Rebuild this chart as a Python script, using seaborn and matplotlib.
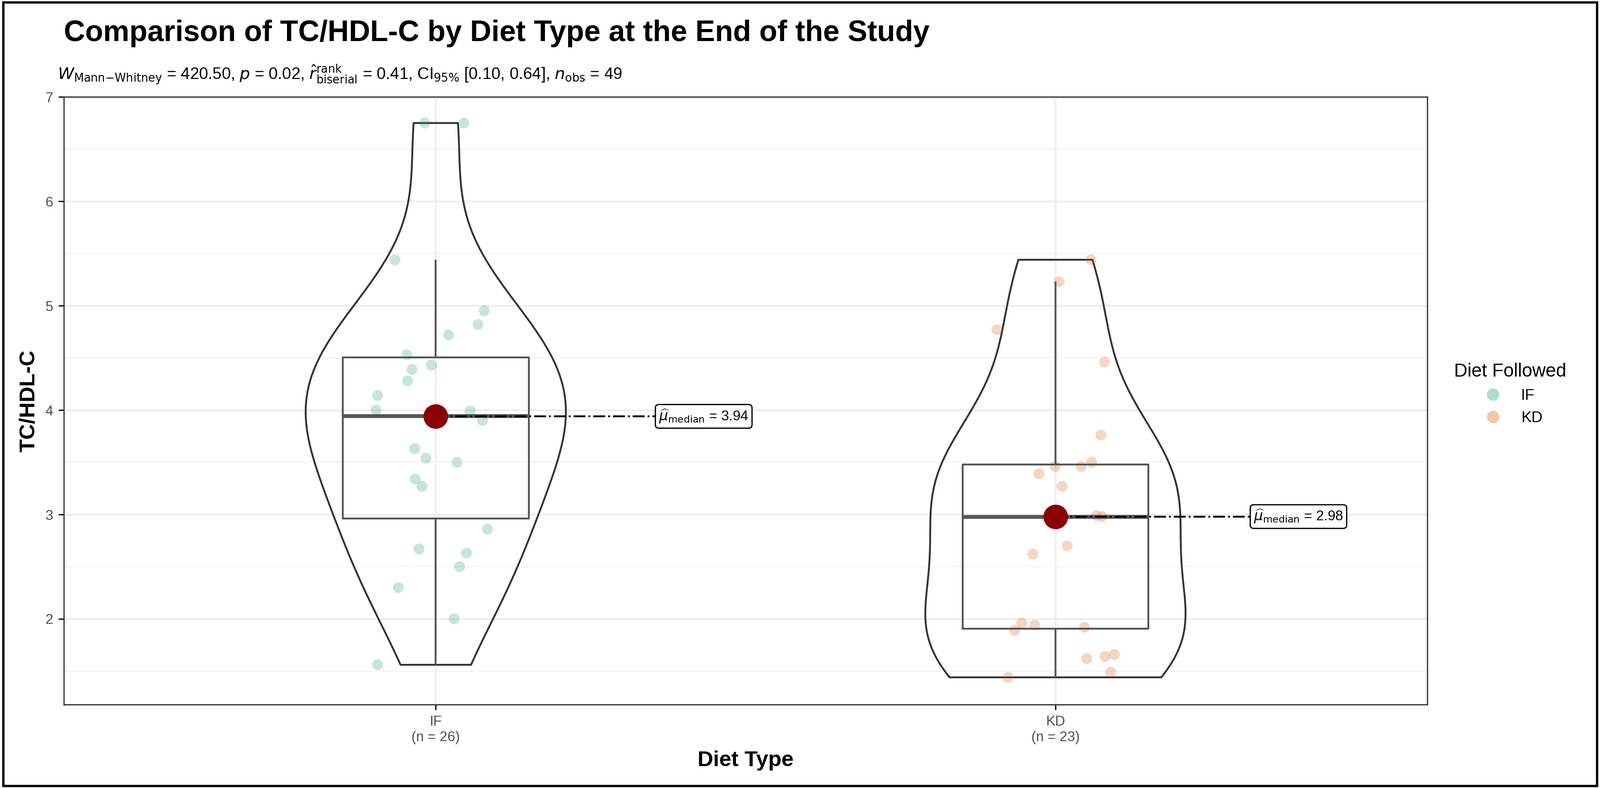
import numpy as np
import pandas as pd
import matplotlib
matplotlib.use("Agg")
import matplotlib.pyplot as plt
import seaborn as sns
from matplotlib.lines import Line2D

plt.rcParams["font.family"] = "Liberation Sans"

groups = ["IF", "KD"]
if_values = [6.75, 6.75, 5.44, 4.95, 4.72, 4.82, 4.53, 4.43, 4.39, 4.28, 4.14, 4.00, 3.99,
             3.90, 3.63, 3.54, 3.50, 3.34, 3.27, 2.86, 2.67, 2.63, 2.50, 2.30, 2.00, 1.56]
kd_values = [5.44, 5.23, 4.77, 4.46, 3.76, 3.50, 3.46, 3.46, 3.39, 3.27, 2.98, 2.99, 2.70,
             2.62, 1.96, 1.94, 1.89, 1.92, 1.66, 1.64, 1.62, 1.49, 1.44]
medians = [3.94, 2.98]
colors = {"IF": "#1B9E77", "KD": "#D95F02"}

df = pd.DataFrame({"Diet": ["IF"] * len(if_values) + ["KD"] * len(kd_values),
                   "val": if_values + kd_values})

fig = plt.figure(figsize=(14.34, 7.064), dpi=250)
ax = fig.add_axes([0.04, 0.106, 0.852, 0.771])
ax.set_xlim(-0.6, 1.6)
ax.set_ylim(1.18, 7.0)

sns.stripplot(data=df, x="Diet", y="val", hue="Diet", palette=colors, order=groups,
              jitter=0.1, size=7, alpha=0.25, linewidth=0, ax=ax, legend=False, zorder=2)
sns.violinplot(data=df, x="Diet", y="val", order=groups, cut=0, fill=False, inner=None,
               density_norm="width", width=0.42, color="#333333", linewidth=1.2, ax=ax)
sns.boxplot(data=df, x="Diet", y="val", order=groups, fill=False, width=0.3, whis=1.2,
            color="#555555", linewidth=1.2, showfliers=False, showcaps=False, ax=ax,
            medianprops=dict(color="#555555", lw=2.5))
ax.set_xlim(-0.6, 1.6)
ax.set_ylim(1.18, 7.0)
ax.set_yticks([2, 3, 4, 5, 6, 7])
ax.set_yticks(np.arange(1.5, 7.0, 1.0), minor=True)
ax.grid(True, which="major", color="#EBEBEB", lw=1.0)
ax.grid(True, which="minor", axis="y", color="#F2F2F2", lw=0.6)
ax.set_axisbelow(True)

label_x = [0.36, 1.32]
for i, m in enumerate(medians):
    ax.plot([i, label_x[i]], [m, m], ls="-.", color="black", lw=1.2, zorder=4)
    ax.scatter([i], [m], s=220, color="#8B0000", zorder=5)
    ax.text(label_x[i], m, r"$\widehat{\mu}_{\mathrm{median}}$ = %.2f" % m, fontsize=9,
            va="center", ha="left", zorder=6,
            bbox=dict(boxstyle="round,pad=0.25", fc="white", ec="black", lw=0.8))

ax.set_xticks([0, 1])
ax.set_xticklabels(["IF\n(n = 26)", "KD\n(n = 23)"], color="#4D4D4D", fontsize=9)
ax.tick_params(axis="y", labelcolor="#4D4D4D", labelsize=9)
ax.tick_params(which="minor", length=0)
for s in ax.spines.values():
    s.set_color("#333333"); s.set_linewidth(0.8)
ax.set_xlabel("Diet Type", fontsize=14, fontweight="bold")
ax.set_ylabel("TC/HDL-C", fontsize=14, fontweight="bold")

fig.text(0.04, 0.94, "Comparison of TC/HDL-C by Diet Type at the End of the Study",
         fontsize=19, fontweight="bold", ha="left", va="bottom")
fig.text(0.036, 0.905,
         r"$W_{\mathrm{Mann{-}Whitney}}$ = 420.50, $p$ = 0.02, $\hat{r}_{\mathrm{biserial}}^{\mathrm{rank}}$ = 0.41, CI$_{95\%}$ [0.10, 0.64], $n_{\mathrm{obs}}$ = 49",
         fontsize=10.5, ha="left", va="center")

handles = [Line2D([], [], marker="o", ls="", color=colors[g], alpha=0.35, markersize=8,
                  markeredgewidth=0) for g in groups]
fig.legend(handles, groups, title="Diet Followed", loc="center left",
           bbox_to_anchor=(0.9, 0.5), frameon=False, fontsize=10, title_fontsize=12)

fig.patches.append(matplotlib.patches.Rectangle((0.002, 0.003), 0.996, 0.994, transform=fig.transFigure,
                                                fill=False, ec="black", lw=1.5))
fig.savefig("out.png", dpi=250)
